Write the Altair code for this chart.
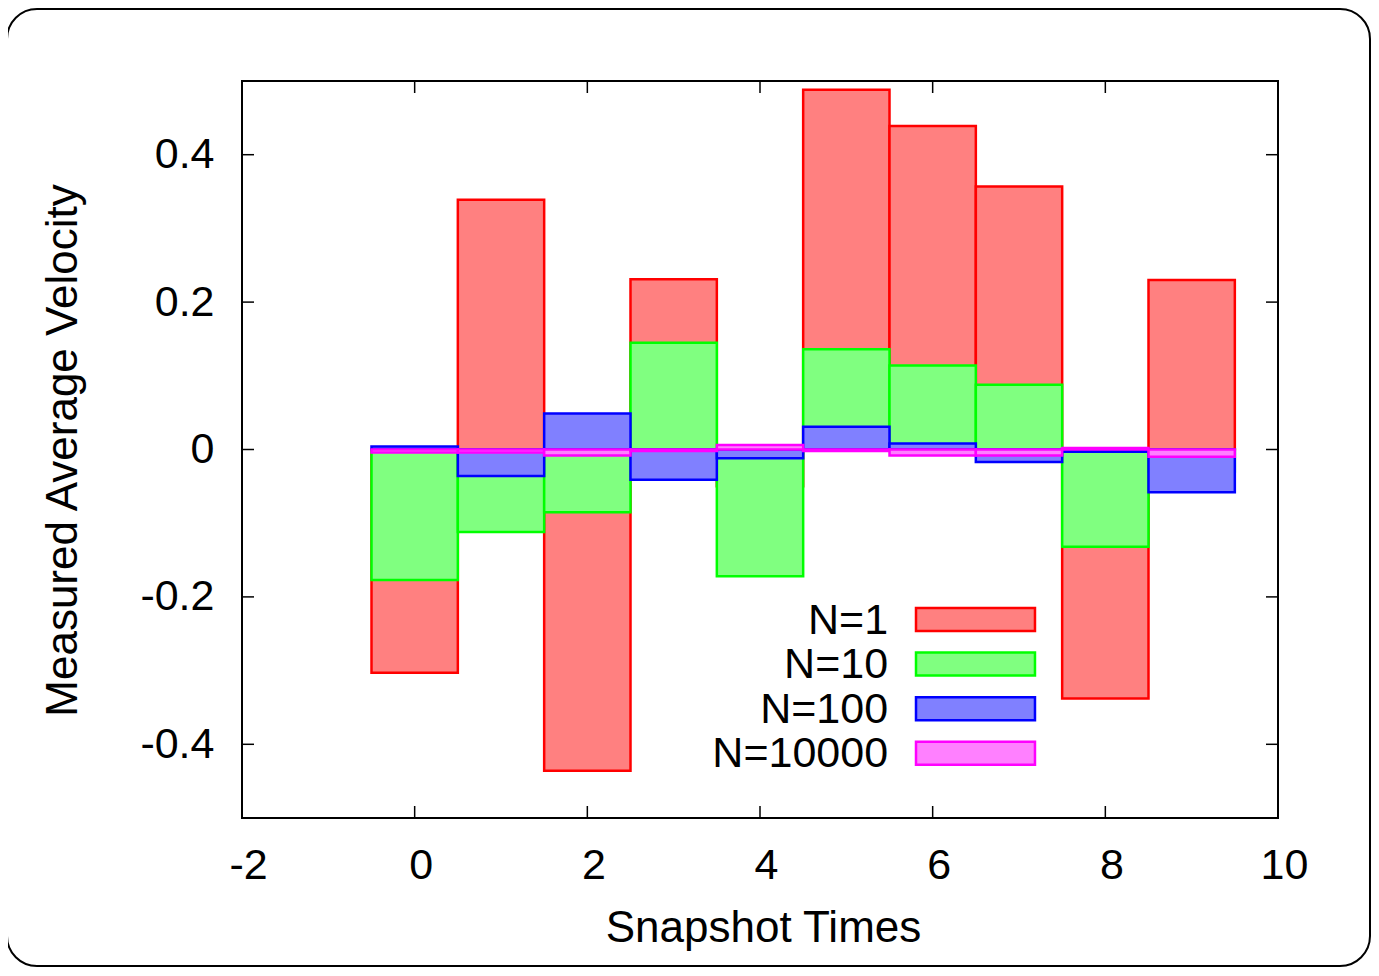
import altair as alt
import pandas as pd

# ---- data ----
times = [0, 1, 2, 3, 4, 5, 6, 7, 8, 9]
series = ["N=1", "N=10", "N=100", "N=10000"]
n1 = [-0.303, 0.339, -0.436, 0.231, -0.05, 0.488, 0.439, 0.357, -0.338, 0.230]
n10 = [-0.177, -0.112, -0.085, 0.145, -0.172, 0.136, 0.114, 0.088, -0.132, -0.03]
n100 = [0.004, -0.036, 0.049, -0.041, -0.012, 0.031, 0.008, -0.017, -0.003, -0.058]
n10000 = [-0.004, -0.004, -0.008, -0.002, 0.006, -0.002, -0.008, -0.008, 0.002, -0.010]
stroke_colors = ["#ff0000", "#00ff00", "#0000ff", "#ff00ff"]
fill_colors = ["#ff8080", "#80ff80", "#8080ff", "#ff80ff"]
x_ticks = [-2, 0, 2, 4, 6, 8, 10]
y_ticks = [-0.4, -0.2, 0, 0.2, 0.4]
x_title = "Snapshot Times"
y_title = "Measured Average Velocity"

FONT = "Liberation Sans"
W, H = 1036, 737

rows = []
for s, vals in zip(series, [n1, n10, n100, n10000]):
    for t, v in zip(times, vals):
        rows.append({"series": s, "lo": t - 0.5, "hi": t + 0.5, "v": v, "zero": 0.0})
bars_df = pd.DataFrame(rows)

xs = alt.Scale(domain=[-2, 10], nice=False, zero=False)
ys = alt.Scale(domain=[-0.5, 0.5], nice=False, zero=False)
fill_scale = alt.Scale(domain=series, range=fill_colors)
stroke_scale = alt.Scale(domain=series, range=stroke_colors)

x_axis = alt.Axis(values=x_ticks, labelExpr="'' + datum.value", ticks=False,
                  domain=False, grid=False, labelFontSize=43, labelFont=FONT,
                  labelColor="black", labelPadding=60, labelBaseline="alphabetic",
                  labelOffset=6, labelFlush=False,
                  titleFont=FONT, titleFontSize=44, titleFontWeight="normal",
                  titleColor="black", titleX=521, titleY=123,
                  titleBaseline="alphabetic")
y_axis = alt.Axis(values=y_ticks, labelExpr="'' + datum.value", ticks=False,
                  domain=False, grid=False, labelFontSize=43, labelFont=FONT,
                  labelColor="black", labelPadding=28, labelFlush=False,
                  titleFont=FONT, titleFontSize=44, titleFontWeight="normal",
                  titleColor="black", titleX=-179, titleY=369, titleAngle=270,
                  titleBaseline="middle", titleAlign="center")


def X(field):
    return alt.X(field, scale=xs, axis=x_axis, title=x_title)


def Y(field):
    return alt.Y(field, scale=ys, axis=y_axis, title=y_title)


bars = alt.Chart(bars_df).mark_rect(strokeWidth=2.5).encode(
    x=X("lo:Q"), x2="hi:Q",
    y=Y("zero:Q"), y2="v:Q",
    fill=alt.Fill("series:N", scale=fill_scale, legend=None),
    stroke=alt.Stroke("series:N", scale=stroke_scale, legend=None),
)

# inside ticks (gnuplot style)
yt_df = pd.DataFrame({"v": y_ticks})
xt_df = pd.DataFrame({"t": x_ticks[1:-1]})
tick_style = dict(color="black", strokeWidth=1.5)
ytl = alt.Chart(yt_df).mark_rule(**tick_style).encode(
    y=Y("v:Q"), x=alt.value(0), x2=alt.value(12))
ytr = alt.Chart(yt_df).mark_rule(**tick_style).encode(
    y=Y("v:Q"), x=alt.value(W - 12), x2=alt.value(W))
xtb = alt.Chart(xt_df).mark_rule(**tick_style).encode(
    x=X("t:Q"), y=alt.value(H - 12), y2=alt.value(H))
xtt = alt.Chart(xt_df).mark_rule(**tick_style).encode(
    x=X("t:Q"), y=alt.value(0), y2=alt.value(12))

# legend (inside, bottom right) in data coordinates
leg_top, leg_step, leg_half = -0.2307, -0.0605, 0.0156
leg_df = pd.DataFrame({
    "series": series,
    "yc": [leg_top + i * leg_step for i in range(len(series))],
})
leg_df["y0"] = leg_df["yc"] - leg_half
leg_df["y1"] = leg_df["yc"] + leg_half
leg_df["x0"] = 5.807
leg_df["x1"] = 7.185
leg_df["xt"] = 5.484

leg_sw = alt.Chart(leg_df).mark_rect(strokeWidth=2.5).encode(
    x=X("x0:Q"), x2="x1:Q",
    y=Y("y0:Q"), y2="y1:Q",
    fill=alt.Fill("series:N", scale=fill_scale, legend=None),
    stroke=alt.Stroke("series:N", scale=stroke_scale, legend=None),
)
leg_tx = alt.Chart(leg_df).mark_text(align="right", baseline="middle", font=FONT,
                                     fontSize=43, color="black", dy=1).encode(
    x=X("xt:Q"), y=Y("yc:Q"),
    text="series:N",
)

# rounded outer frame
frame = alt.Chart(pd.DataFrame({"a": [0]})).mark_rect(
    fill="transparent", stroke="black", strokeWidth=2, cornerRadius=30).encode(
    x=alt.value(-235), x2=alt.value(1128), y=alt.value(-72), y2=alt.value(885))

chart = alt.layer(bars, ytl, ytr, xtb, xtt, leg_sw, leg_tx, frame).properties(
    width=W, height=H,
    autosize=alt.AutoSizeParams(type="none"),
    padding={"left": 234, "top": 73, "right": 93, "bottom": 150},
    background="white",
).configure_view(stroke="black", strokeWidth=2)

chart.save("out.html", embed_options={"renderer": "svg", "actions": False})
